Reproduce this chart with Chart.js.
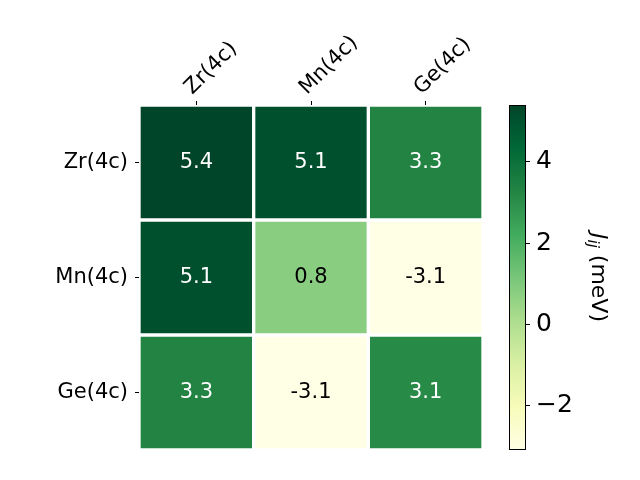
<!DOCTYPE html>
<html>
<head>
<meta charset="utf-8">
<script src="https://cdn.jsdelivr.net/npm/chart.js@4.4.0/dist/chart.umd.min.js"></script>
<style>
  html, body { margin: 0; padding: 0; background: #fff; }
  #wrap { position: relative; width: 640px; height: 480px; }
  #wrap canvas { position: absolute; left: 0; top: 0; }
</style>
</head>
<body>
<div id="wrap">
  <canvas id="heatmap" width="640" height="480"></canvas>
  <canvas id="colorbar" width="640" height="480"></canvas>
</div>
<script>
// --- Data ---
const colLabels = ['Zr(4c)', 'Mn(4c)', 'Ge(4c)'];
const rowLabels = ['Zr(4c)', 'Mn(4c)', 'Ge(4c)'];
const rowZr = [5.4, 5.1, 3.3];
const rowMn = [5.1, 0.8, -3.1];
const rowGe = [3.3, -3.1, 3.1];
const rows = [rowZr, rowMn, rowGe];
const cbTicks = [-2, 0, 2, 4];
const vMin = -3.1;
const vMax = 5.4;
const cbTitleMain = 'J';
const cbTitleSub = 'ij';
const cbTitleUnit = ' (meV)';

// --- YlGn colormap ---
const YLGN = ['#ffffe5', '#f7fcb9', '#d9f0a3', '#addd8e', '#78c679', '#41ab5d', '#238443', '#006837', '#004529'];
const FONT = '"DejaVu Sans", sans-serif';

function hexRgb(h) {
    return [1, 3, 5].map(i => parseInt(h.substr(i, 2), 16));
}
function norm(v) {
    return Math.min(1, Math.max(0, (v - vMin) / (vMax - vMin)));
}
function ylgn(v) {
    const t = norm(v) * (YLGN.length - 1);
    const i = Math.min(YLGN.length - 2, Math.floor(t));
    const f = t - i;
    const a = hexRgb(YLGN[i]), b = hexRgb(YLGN[i + 1]);
    const c = a.map((x, k) => Math.round(x + (b[k] - x) * f));
    return `rgb(${c[0]}, ${c[1]}, ${c[2]})`;
}

// --- cell numbers ---
const cellText = {
    id: 'cellText',
    afterDatasetsDraw(chart) {
        const ctx = chart.ctx;
        const xs = chart.scales.x, ys = chart.scales.y;
        ctx.save();
        ctx.font = '21px ' + FONT;
        ctx.textAlign = 'center';
        ctx.textBaseline = 'middle';
        rows.forEach((vals, r) => {
            vals.forEach((v, c) => {
                ctx.fillStyle = norm(v) > 0.5 ? '#ffffff' : '#000000';
                ctx.fillText(v.toFixed(1), xs.getPixelForValue(c), ys.getPixelForValue(r + 0.5));
            });
        });
        ctx.restore();
    }
};

// --- heatmap ---
new Chart(document.getElementById('heatmap'), {
    type: 'bar',
    data: {
        labels: colLabels,
        datasets: rows.map((vals, r) => ({
            label: rowLabels[r],
            data: vals.map(() => [r, r + 1]),
            backgroundColor: vals.map(ylgn),
            borderColor: '#ffffff',
            borderWidth: 2,
            borderSkipped: false,
            grouped: false,
            categoryPercentage: 1,
            barPercentage: 1
        }))
    },
    options: {
        responsive: false,
        animation: false,
        layout: { padding: { left: 0, top: 0, right: 157, bottom: 30 } },
        plugins: { legend: { display: false }, tooltip: { enabled: false } },
        scales: {
            x: {
                position: 'top',
                offset: true,
                grid: { offset: false, drawOnChartArea: false, tickLength: 4, color: '#000' },
                border: { display: false },
                ticks: { minRotation: 45, maxRotation: 45, color: '#000', font: { family: FONT, size: 21 }, padding: 1, labelOffset: 10 },
                afterFit: s => { s.height = 105; }
            },
            y: {
                min: 0,
                max: 3,
                reverse: true,
                afterBuildTicks: s => { s.ticks = rowLabels.map((_, i) => ({ value: i + 0.5 })); },
                grid: { drawOnChartArea: false, tickLength: 4, color: '#000' },
                border: { display: false },
                ticks: { callback: v => rowLabels[Math.floor(v)], color: '#000', font: { family: FONT, size: 21 }, padding: 7 },
                afterFit: s => { s.width = 139; }
            }
        }
    },
    plugins: [cellText]
});

// --- colorbar ---
const cbFrame = {
    id: 'cbFrame',
    afterDatasetsDraw(chart) {
        const a = chart.chartArea;
        const ctx = chart.ctx;
        ctx.save();
        ctx.strokeStyle = '#000';
        ctx.lineWidth = 1;
        ctx.strokeRect(Math.round(a.left) + 0.5, Math.round(a.top) + 0.5, Math.round(a.right - a.left) - 1, Math.round(a.bottom - a.top) - 1);
        ctx.restore();
    }
};

const cbTitle = {
    id: 'cbTitle',
    afterDraw(chart) {
        const a = chart.chartArea;
        const ctx = chart.ctx;
        const big = 'italic 22px ' + FONT, small = 'italic 15px ' + FONT, plain = '22px ' + FONT;
        ctx.save();
        ctx.font = big; const w1 = ctx.measureText(cbTitleMain).width;
        ctx.font = small; const w2 = ctx.measureText(cbTitleSub).width;
        ctx.font = plain; const w3 = ctx.measureText(cbTitleUnit).width;
        const total = w1 + w2 + w3;
        ctx.translate(598, (a.top + a.bottom) / 2);
        ctx.rotate(Math.PI / 2);
        ctx.fillStyle = '#000';
        ctx.textBaseline = 'middle';
        ctx.textAlign = 'left';
        let x = -total / 2;
        ctx.font = big; ctx.fillText(cbTitleMain, x, 0); x += w1;
        ctx.font = small; ctx.fillText(cbTitleSub, x, 6); x += w2;
        ctx.font = plain; ctx.fillText(cbTitleUnit, x, 0);
        ctx.restore();
    }
};

new Chart(document.getElementById('colorbar'), {
    type: 'bar',
    data: {
        labels: [''],
        datasets: [{
            data: [[vMin, vMax]],
            backgroundColor: context => {
                const a = context.chart.chartArea;
                if (!a) return YLGN[4];
                const g = context.chart.ctx.createLinearGradient(0, a.bottom, 0, a.top);
                YLGN.forEach((c, i) => g.addColorStop(i / (YLGN.length - 1), c));
                return g;
            },
            borderWidth: 0,
            borderSkipped: false,
            categoryPercentage: 1,
            barPercentage: 1
        }]
    },
    options: {
        responsive: false,
        animation: false,
        layout: { padding: { left: 509, top: 105, right: 0, bottom: 30 } },
        plugins: { legend: { display: false }, tooltip: { enabled: false } },
        scales: {
            x: { display: false },
            y: {
                position: 'right',
                min: vMin,
                max: vMax,
                afterBuildTicks: s => { s.ticks = cbTicks.map(v => ({ value: v })); },
                grid: { drawOnChartArea: false, tickLength: 4, color: '#000' },
                border: { display: false },
                ticks: {
                    callback: v => v < 0 ? '\u2212' + Math.abs(v) : String(v),
                    color: '#000',
                    font: { family: FONT, size: 25 },
                    padding: 6
                },
                afterFit: s => { s.width = 114; }
            }
        }
    },
    plugins: [cbFrame, cbTitle]
});
</script>
</body>
</html>
